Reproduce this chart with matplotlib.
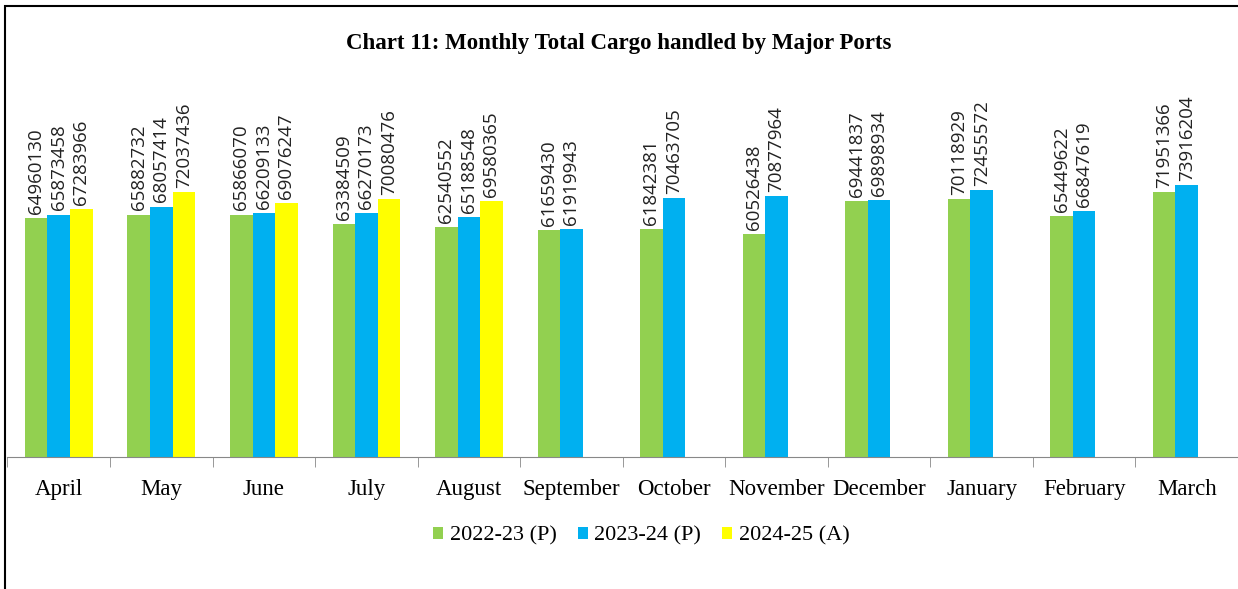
import matplotlib.pyplot as plt
import numpy as np
from matplotlib.patches import Rectangle

months = ['April', 'May', 'June', 'July', 'August', 'September', 'October',
          'November', 'December', 'January', 'February', 'March']
fy2223 = [64960130, 65882732, 65866070, 63384509, 62540552, 61659430,
          61842381, 60526438, 69441837, 70118929, 65449622, 71951366]
fy2324 = [65873458, 68057414, 66209133, 66270173, 65188548, 61919943,
          70463705, 70877964, 69898934, 72455572, 66847619, 73916204]
fy2425 = [67283966, 72037436, 69076247, 70080476, 69580365]

series = [('2022-23 (P)', fy2223, '#92D050'),
          ('2023-24 (P)', fy2324, '#00B0F0'),
          ('2024-25 (A)', fy2425, '#FFFF00')]

fig = plt.figure(figsize=(12.38, 5.89), dpi=100)
ax = fig.add_axes([0.006, 0.224, 0.994, 0.5])

x = np.arange(len(months))
w = 0.22
for i, (name, vals, col) in enumerate(series):
    pos = x[:len(vals)] + (i - 1) * w
    ax.bar(pos, vals, width=w, color=col, label=name)
    for p, v in zip(pos, vals):
        ax.annotate(str(v), (p, v), xytext=(0, 3), textcoords='offset points',
                    rotation=90, ha='center', va='bottom', fontsize=13.5,
                    family='Open Sans', color='#222222', annotation_clip=False)

ax.set_xlim(-0.5, len(months) - 0.5)
ax.set_ylim(0, 80000000)
ax.set_yticks([])
for s in ['left', 'right', 'top']:
    ax.spines[s].set_visible(False)
ax.spines['bottom'].set_color('#888888')
ax.set_xticks(x)
ax.set_xticklabels(months, family='Liberation Serif', fontsize=16.5)
ax.tick_params(axis='x', length=0, pad=16)
ax.set_xticks(np.arange(len(months) + 1) - 0.5, minor=True)
ax.tick_params(axis='x', which='minor', length=7, color='#888888')

fig.text(0.5, 0.926, 'Chart 11: Monthly Total Cargo handled by Major Ports',
         ha='center', va='center', family='Liberation Serif', fontsize=16.5,
         fontweight='bold')

leg = fig.legend(loc='center', bbox_to_anchor=(0.518, 0.09), ncol=3, frameon=False,
                 prop={'family': 'Liberation Serif', 'size': 16},
                 handlelength=0.45, handleheight=0.45, handletextpad=0.3,
                 columnspacing=0.95)

fig.patches.append(Rectangle((0.004, -0.01), 1.2, 1.0, transform=fig.transFigure,
                             fill=False, edgecolor='black', linewidth=1.5))

plt.savefig('out.png', dpi=100)
